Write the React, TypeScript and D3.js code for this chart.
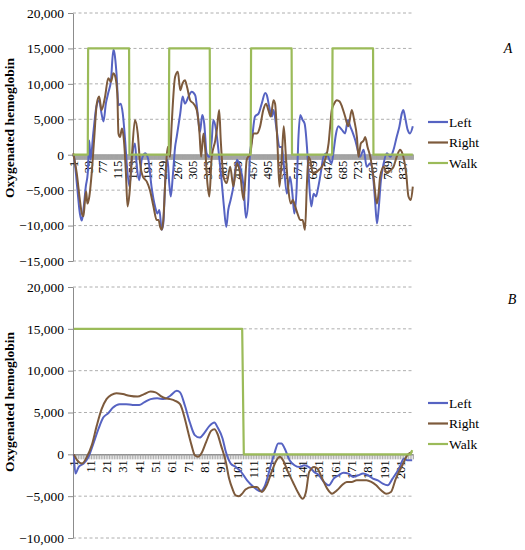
import {useEffect, useRef} from 'react';
import * as d3 from 'd3';

type Pt = [number, number];

// panel A: ~864 samples, panel B: ~208 samples (category index, value)
const TOP_N = 864;
const BOTTOM_N = 208;
const TOP_LABEL_STEP = 38;
const BOTTOM_LABEL_STEP = 10;

const seriesNames = ['Left', 'Right', 'Walk'];
const seriesColors = ['#5663c2', '#7d5a3c', '#9bbb59'];
const yTicksTop = [20000, 15000, 10000, 5000, 0, -5000, -10000, -15000];
const yTicksBottom = [20000, 15000, 10000, 5000, 0, -5000, -10000];

const topLeft: Pt[] = [
  [1, 0], [3, -300], [11, -4500], [18, -8300], [23, -9300], [28, -7300], [33, -4500], [38, -2600],
  [42, 2000], [45, -700], [52, 3000], [60, 6800], [67, 7700], [73, 5800], [78, 4700], [84, 7200],
  [90, 8700], [97, 10500], [103, 14800], [106, 14300], [111, 11500], [116, 7000], [122, 7200],
  [127, 5800], [133, 2000], [137, -1200], [144, -4500], [150, -700], [158, 1600], [162, -1200],
  [169, -3600], [175, -700], [184, 200], [192, -700], [200, -4500], [209, -7300], [215, -8300],
  [220, -7800], [226, -10600], [230, -9700], [235, -3600], [241, -700], [245, -4000], [249, -5900],
  [254, -3100], [260, 1100], [264, 2500], [273, 5800], [279, 8200], [285, 7200], [294, 8200],
  [302, 8900], [311, 8400], [319, 4900], [323, 3200], [329, 5600], [334, 4400], [340, 200],
  [347, -300], [353, 2000], [357, 4900], [364, 3500], [370, 700], [378, -3600], [384, -7300],
  [390, -10200], [395, -7800], [401, -6400], [408, -4500], [417, -700], [425, -1700], [434, -4500],
  [440, -8900], [446, -6400], [450, 0], [455, 2000], [463, 5400], [472, 5800], [480, 7200],
  [489, 8700], [493, 8400], [499, 6800], [506, 5400], [510, 6300], [518, 3500], [525, 1100],
  [531, 1100], [535, -700], [544, -5500], [552, -3100], [558, -5500], [563, -8300], [569, -4500],
  [573, 2000], [578, 5600], [584, 4900], [589, 4400], [595, 1100], [599, -2600], [606, -7300],
  [612, -5500], [618, -5900], [624, -4500], [630, -2600], [637, -300], [645, 200], [652, -700],
  [658, -1200], [662, 200], [669, 3000], [675, 4000], [684, 3500], [692, 3000], [699, 4900],
  [705, 4000], [712, 3000], [718, 2000], [722, 1100], [730, -300], [739, 700], [747, -1700],
  [756, -1200], [764, -3600], [768, -6400], [773, -9700], [777, -7800], [783, -3600], [790, -1200],
  [798, 200], [807, -300], [815, 700], [823, 2500], [830, 4000], [836, 5800], [840, 6300],
  [845, 5100], [851, 3500], [857, 3000], [864, 4000],
];

const topRight: Pt[] = [
  [1, 200], [10, -2600], [18, -6400], [23, -8300], [27, -8700], [31, -6400], [34, -5200], [37, -6900],
  [42, -5900], [48, -2600], [54, 2000], [61, 7200], [67, 8200], [73, 6300], [82, 8200], [90, 10800],
  [97, 10300], [103, 11500], [107, 11200], [113, 8700], [116, 3000], [120, 2500], [125, 3700],
  [130, 2000], [135, -2600], [139, -7300], [144, -5500], [150, -300], [158, 4900], [165, 3000],
  [171, -1200], [178, -3100], [188, -3800], [196, -5000], [205, -7300], [213, -9200], [218, -9200],
  [222, -10200], [226, -10600], [230, -9200], [236, -2600], [241, 1100], [247, -300], [251, 4000],
  [260, 11000], [267, 11700], [273, 9100], [279, 10100], [285, 10500], [291, 9400], [298, 7700],
  [307, 7200], [315, 6300], [322, 3000], [326, -300], [332, 3000], [336, 1100], [342, -4000],
  [347, -5900], [353, -300], [362, 2000], [366, 3500], [372, 6300], [376, 2000], [383, -3100],
  [391, -4000], [400, -1700], [408, -4500], [417, -1200], [425, -2600], [434, -6400], [442, -700],
  [451, 200], [459, 3000], [468, 3000], [476, 4000], [484, 6300], [491, 7200], [497, 6300],
  [503, 5400], [510, 7700], [514, 7200], [520, 1600], [525, -4500], [531, -700], [536, 4000],
  [542, -700], [548, -5000], [554, -6900], [559, -6400], [565, -7300], [571, -8300], [578, -9200],
  [584, -9200], [590, -10600], [595, -4000], [599, -300], [603, -700], [610, -2600], [616, -2600],
  [624, -2200], [633, -1700], [641, -700], [650, 1600], [654, 4000], [658, 6300], [664, 7200],
  [671, 7700], [678, 7500], [684, 6800], [692, 5400], [700, 4000], [709, 6300], [715, 4900],
  [722, 2500], [726, -300], [732, 1600], [739, 2000], [743, 2500], [749, 1100], [756, -300],
  [764, -3100], [773, -6900], [777, -5500], [781, -3100], [790, -1700], [798, -2600], [807, -2200],
  [815, -1700], [823, -300], [832, 700], [836, 400], [847, -2600], [853, -5900], [859, -6400],
  [864, -4500],
];

const topWalk: Pt[] = [
  [1, 0], [38, 0], [39, 15000], [143, 15000], [144, 0], [244, 0], [245, 15000], [348, 15000],
  [349, 0], [452, 0], [453, 15000], [556, 15000], [557, 0], [659, 0], [660, 15000], [763, 15000],
  [764, 0], [864, 0],
];

const bottomLeft: Pt[] = [
  [1, 0], [2, -2300], [4, -1500], [7, -1100], [10, -300], [13, 1300], [16, 3000], [19, 4400],
  [22, 4900], [25, 5600], [29, 6000], [33, 6000], [37, 5900], [41, 5900], [44, 6200], [48, 6600],
  [52, 6700], [56, 6600], [60, 7000], [64, 7600], [66, 7400], [69, 5800], [72, 3800], [75, 2300],
  [78, 2000], [81, 2600], [84, 3400], [87, 3800], [89, 3200], [92, 1900], [94, 300], [97, -1100],
  [100, -1500], [103, -2000], [107, -3100], [111, -3900], [115, -4400], [118, -3700], [121, -1700],
  [124, 300], [126, 1300], [128, 1300], [130, 700], [133, -700], [136, -1300], [139, -1500],
  [142, -1300], [146, -1700], [148, -2100], [151, -2500], [154, -3300], [157, -3700], [160, -2900],
  [163, -2500], [166, -2200], [169, -2300], [172, -2700], [175, -2500], [178, -2300], [181, -2500],
  [184, -2900], [187, -3100], [190, -3500], [193, -3700], [196, -2900], [200, -1700], [203, -500],
  [205, -700], [208, -700],
];

const bottomRight: Pt[] = [
  [1, 0], [3, -700], [6, -1100], [9, -300], [12, 1100], [15, 3400], [18, 5400], [21, 6600],
  [24, 7100], [27, 7300], [31, 7200], [35, 7000], [40, 6900], [44, 7200], [48, 7500], [51, 7400],
  [54, 7000], [57, 6700], [60, 6600], [63, 6400], [66, 6000], [69, 4200], [71, 2600], [73, 1100],
  [75, -100], [77, -300], [79, 100], [82, 1500], [85, 2800], [87, 3000], [89, 2400], [91, 1100],
  [94, -900], [96, -2900], [98, -4100], [100, -4900], [102, -5000], [104, -4700], [106, -4200],
  [110, -3900], [113, -3900], [116, -4500], [119, -3700], [122, -2100], [125, -700], [127, -300],
  [129, -700], [132, -2100], [135, -3300], [138, -4500], [141, -5300], [143, -4500], [145, -2100],
  [148, -1500], [150, -1700], [153, -2900], [156, -4100], [159, -4700], [162, -4300], [165, -3700],
  [168, -3300], [171, -3300], [174, -3100], [177, -3100], [180, -3100], [183, -3300], [186, -3700],
  [189, -4300], [192, -4700], [195, -4500], [198, -2900], [202, -1300], [205, -100], [208, 300],
];

const bottomWalk: Pt[] = [
  [1, 15000], [104, 15000], [105, 0], [207, 0], [208, 500],
];

interface PanelSpec {
  top: number;
  bottom: number;
  yTicks: number[];
  n: number;
  labelStep: number;
  series: Pt[][];
  tag: string;
  tagX: number;
  tagY: number;
  titleY: number;
  legendY: number;
}

const FONT = 'Liberation Serif, Times New Roman, DejaVu Serif, serif';

export default function App() {
  const svgRef = useRef<SVGSVGElement>(null);

  useEffect(() => {
    if (!svgRef.current) return;
    const width = 525;
    const height = 550;
    const svg = d3
      .select(svgRef.current)
      .attr('width', width)
      .attr('height', height)
      .style('font-family', FONT);
    svg.selectAll('*').remove();
    svg.append('rect').attr('width', width).attr('height', height).attr('fill', '#ffffff');

    const plotLeft = 73;
    const plotRight = 413;
    const fmt = d3.format(',');

    const panels: PanelSpec[] = [
      {
        top: 13, bottom: 261, yTicks: yTicksTop, n: TOP_N, labelStep: TOP_LABEL_STEP,
        series: [topLeft, topRight, topWalk], tag: 'A', tagX: 508, tagY: 53, titleY: 128, legendY: 122,
      },
      {
        top: 287, bottom: 538, yTicks: yTicksBottom, n: BOTTOM_N, labelStep: BOTTOM_LABEL_STEP,
        series: [bottomLeft, bottomRight, bottomWalk], tag: 'B', tagX: 512, tagY: 304, titleY: 402, legendY: 403,
      },
    ];

    panels.forEach((p) => {
      const g = svg.append('g');
      const x = d3.scaleLinear().domain([0.5, p.n + 0.5]).range([plotLeft, plotRight]);
      const y = d3
        .scaleLinear()
        .domain([d3.min(p.yTicks) as number, d3.max(p.yTicks) as number])
        .range([p.bottom, p.top]);

      // gridlines
      g.selectAll('.grid')
        .data(p.yTicks.filter((v) => v !== 0))
        .join('line')
        .attr('x1', plotLeft)
        .attr('x2', plotRight)
        .attr('y1', (d) => y(d))
        .attr('y2', (d) => y(d))
        .attr('stroke', '#9a9a9a')
        .attr('stroke-width', 0.8)
        .attr('stroke-dasharray', '3,2.5');

      // y axis
      const yAxis = g
        .append('g')
        .attr('transform', `translate(${plotLeft},0)`)
        .call(d3.axisLeft(y).tickValues(p.yTicks).tickSize(5).tickSizeOuter(0).tickFormat((d) => fmt(d as number)));
      yAxis.attr('font-family', null);
      yAxis.select('.domain').attr('stroke', '#8c8c8c');
      yAxis.selectAll('line').attr('stroke', '#8c8c8c');
      yAxis
        .selectAll('text')
        .attr('fill', '#000')
        .style('font-family', FONT)
        .style('font-size', '13.5px')
        .attr('x', -9);

      // category axis with a tick between every sample
      const y0 = y(0);
      const bounds = d3.range(0, p.n + 1).map((i) => i + 0.5);
      const xAxis = g
        .append('g')
        .attr('transform', `translate(0,${y0})`)
        .call(d3.axisBottom(x).tickValues(bounds).tickSize(5).tickSizeOuter(0).tickFormat(() => ''));
      xAxis.select('.domain').attr('stroke', '#8c8c8c').attr('stroke-width', 1.5);
      xAxis.selectAll('line').attr('stroke', '#a3a3a3').attr('stroke-width', 0.9);

      const labels = d3.range(1, p.n + 1, p.labelStep);
      g.selectAll('.xl')
        .data(labels)
        .join('text')
        .attr('transform', (d) => `translate(${x(d)},${y0 + 6}) rotate(-90)`)
        .attr('text-anchor', 'end')
        .attr('dy', '0.35em')
        .style('font-size', '12.5px')
        .attr('fill', '#000')
        .text((d) => String(d));

      // series
      p.series.forEach((data, si) => {
        const line = d3
          .line<Pt>()
          .x((d) => x(d[0]))
          .y((d) => y(d[1]))
          .curve(si === 2 ? d3.curveLinear : d3.curveMonotoneX);
        g.append('path')
          .datum(data)
          .attr('d', line)
          .attr('fill', 'none')
          .attr('stroke', seriesColors[si])
          .attr('stroke-width', si === 2 ? 2.2 : 2)
          .attr('stroke-linejoin', 'round');
      });

      // legend
      seriesNames.forEach((name, si) => {
        const ly = p.legendY + si * 20.5;
        g.append('line')
          .attr('x1', 428)
          .attr('x2', 448)
          .attr('y1', ly)
          .attr('y2', ly)
          .attr('stroke', seriesColors[si])
          .attr('stroke-width', 2.2);
        g.append('text')
          .attr('x', 449)
          .attr('y', ly)
          .attr('dy', '0.35em')
          .style('font-size', '13.5px')
          .attr('fill', '#000')
          .text(name);
      });

      // axis title
      g.append('text')
        .attr('transform', `translate(9,${p.titleY}) rotate(-90)`)
        .attr('text-anchor', 'middle')
        .attr('dy', '0.35em')
        .style('font-size', '13.5px')
        .attr('font-weight', 'bold')
        .attr('fill', '#000')
        .text('Oxygenated hemoglobin');

      // panel tag
      g.append('text')
        .attr('x', p.tagX)
        .attr('y', p.tagY)
        .attr('text-anchor', 'middle')
        .style('font-size', '14px')
        .attr('font-style', 'italic')
        .attr('fill', '#000')
        .text(p.tag);
    });
  }, []);

  return <svg ref={svgRef} style={{position: 'absolute', left: 0, top: 0, display: 'block'}} />;
}
